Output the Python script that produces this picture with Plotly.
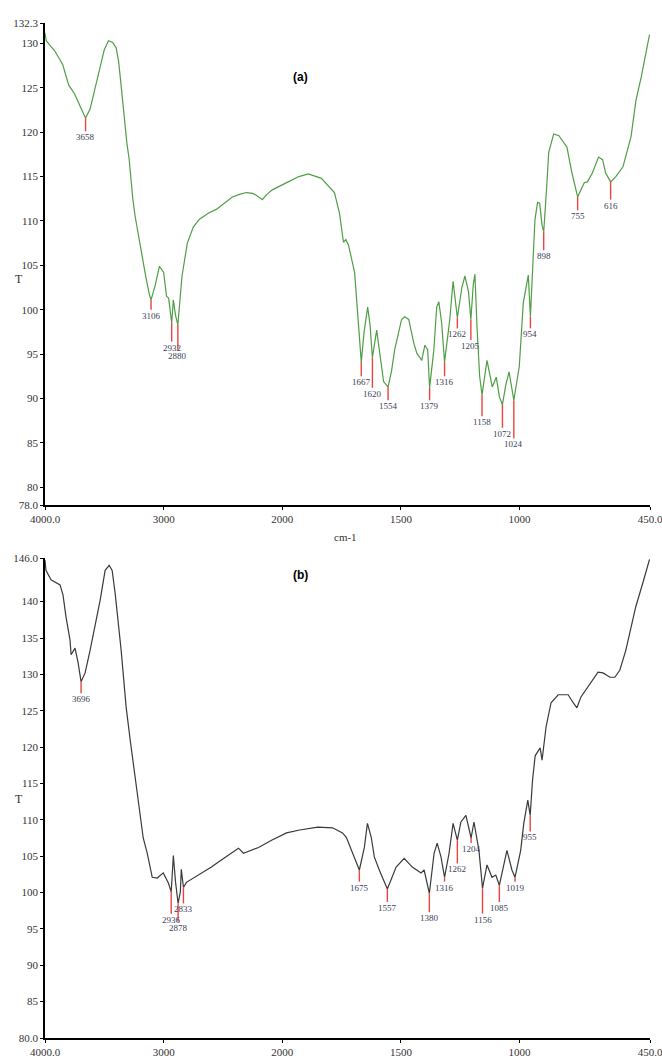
import plotly.graph_objects as go

# ---------------- data: spectrum (a) ----------------
wn_a = [4000, 3990, 3960, 3920, 3880, 3850, 3800, 3750, 3700, 3658, 3620, 3580, 3540, 3500, 3465,
        3430, 3400, 3380, 3360, 3340, 3310, 3290, 3260, 3240, 3200, 3150, 3120, 3106, 3070, 3035,
        3000, 2975, 2958, 2945, 2932, 2918, 2900, 2880, 2862, 2845, 2800, 2750, 2698, 2620, 2556,
        2480, 2421, 2360, 2303, 2250, 2219, 2168, 2130, 2084, 2030, 1975, 1930, 1890, 1835, 1780,
        1759, 1742, 1732, 1721, 1695, 1679, 1667, 1655, 1640, 1630, 1620, 1602, 1585, 1573, 1554,
        1540, 1526, 1497, 1484, 1467, 1446, 1433, 1412, 1399, 1387, 1379, 1361, 1349, 1340, 1328,
        1316, 1294, 1280, 1262, 1243, 1230, 1215, 1205, 1195, 1188, 1179, 1168, 1158, 1148, 1137,
        1115, 1098, 1085, 1072, 1058, 1044, 1024, 1001, 984, 963, 954, 945, 935, 924, 915,
        905, 898, 885, 877, 856, 834, 800, 779, 755, 740, 727, 714, 693, 667, 650,
        637, 616, 594, 564, 530, 509, 487, 470, 452]
t_a = [131.2, 130.3, 129.8, 129.2, 128.3, 127.6, 125.3, 124.3, 122.8, 121.6, 122.6, 124.8, 127.0, 129.3, 130.3,
       130.1, 129.5, 128.0, 125.5, 122.5, 118.8, 116.9, 112.5, 110.5, 107.3, 103.7, 101.7, 101.1, 102.8, 104.9,
       104.2, 101.5, 101.3, 99.5, 98.5, 101.1, 99.4, 98.3, 100.8, 103.8, 107.5, 109.3, 110.2, 110.9, 111.3,
       112.1, 112.7, 113.0, 113.2, 113.1, 112.9, 112.4, 113.0, 113.5, 113.9, 114.4, 115.0, 115.3, 114.8, 113.2,
       110.9, 107.6, 107.9, 107.3, 104.2, 99.0, 94.1, 97.5, 100.3, 98.3, 94.6, 97.7, 94.0, 91.9, 91.3,
       93.0, 95.5, 98.9, 99.2, 98.9, 96.3, 95.1, 94.3, 96.0, 95.5, 91.2, 95.5, 100.3, 100.9, 98.5,
       94.1, 98.9, 103.2, 99.1, 102.5, 103.8, 102.0, 98.9, 102.8, 104.0, 98.0, 92.5, 90.4, 92.2, 94.3,
       91.3, 92.4, 90.2, 89.3, 91.5, 93.0, 89.8, 93.6, 100.8, 103.9, 99.2, 104.5, 110.1, 112.1, 112.0,
       109.5, 108.8, 114.0, 117.7, 119.8, 119.6, 118.3, 115.4, 112.7, 113.6, 114.3, 114.4, 115.4, 117.2, 116.9,
       115.4, 114.4, 115.0, 116.1, 119.5, 123.6, 126.2, 128.5, 131.0]
peaks_a = [3658, 3106, 2932, 2880, 1667, 1620, 1554, 1379, 1316, 1262, 1205, 1158, 1072, 1024, 954, 898, 755, 616]
peak_end_a = [120.1, 100.0, 96.4, 95.5, 92.5, 91.2, 89.8, 89.8, 92.5, 97.9, 96.6, 88.0, 86.7, 85.5, 97.9, 106.7, 111.2, 112.4]

# ---------------- data: spectrum (b) ----------------
wn_b = [4000, 3992, 3949, 3907, 3873, 3848, 3823, 3789, 3780, 3747, 3721, 3696, 3662, 3620, 3578,
        3535, 3493, 3459, 3434, 3409, 3358, 3316, 3282, 3239, 3197, 3172, 3138, 3096, 3054, 3029,
        3003, 2960, 2936, 2918, 2900, 2878, 2859, 2851, 2833, 2808, 2707, 2597, 2538, 2428, 2369,
        2327, 2200, 2090, 1982, 1927, 1850, 1788, 1746, 1730, 1704, 1696, 1675, 1654, 1641, 1625,
        1612, 1591, 1557, 1520, 1486, 1452, 1415, 1402, 1380, 1360, 1347, 1331, 1316, 1297, 1280,
        1262, 1247, 1226, 1204, 1192, 1171, 1156, 1137, 1116, 1100, 1085, 1066, 1053, 1032, 1019,
        995, 982, 965, 955, 945, 934, 913, 905, 888, 867, 837, 795, 774, 758, 741,
        711, 669, 648, 619, 598, 577, 552, 531, 510, 480, 459, 452]
t_b = [145.7, 144.3, 143.0, 142.6, 142.3, 140.9, 137.9, 134.7, 132.7, 133.6, 131.6, 129.0, 130.2, 133.3, 136.5,
       140.2, 144.3, 145.0, 144.3, 141.2, 133.3, 125.5, 121.0, 115.5, 110.0, 107.5, 105.4, 102.1, 102.0, 102.4,
       102.7, 101.3, 100.1, 105.1, 101.5, 98.5, 100.1, 103.2, 100.7, 101.4, 102.4, 103.5, 104.2, 105.4, 106.1,
       105.4, 106.2, 107.2, 108.2, 108.6, 109.0, 108.9, 108.2, 107.6, 105.5, 104.9, 103.1, 106.2, 109.5, 107.6,
       104.9, 103.1, 100.5, 103.5, 104.7, 103.5, 102.7, 103.1, 99.9, 105.4, 106.8, 104.9, 102.1, 105.4, 109.5,
       107.2, 109.7, 110.6, 107.5, 109.7, 105.8, 100.6, 103.8, 102.1, 102.4, 101.0, 104.0, 105.8, 103.1, 102.1,
       105.8, 109.5, 112.7, 110.6, 115.5, 118.8, 119.9, 118.2, 122.8, 126.1, 127.2, 127.2, 126.1, 125.4, 126.9,
       128.3, 130.3, 130.2, 129.6, 129.6, 130.6, 133.3, 136.1, 139.3, 142.6, 145.3, 145.8]
peaks_b = [3696, 2936, 2878, 2833, 1675, 1557, 1380, 1316, 1262, 1204, 1156, 1085, 1019, 955]
peak_end_b = [127.4, 97.1, 96.0, 98.5, 101.5, 98.7, 97.3, 101.5, 104.0, 106.8, 97.1, 98.7, 101.5, 108.4]

x_tick_values = [4000, 3000, 2000, 1500, 1000, 450]
x_tick_text = ["4000.0", "3000", "2000", "1500", "1000", "450.0"]
y_ticks_a = [78, 80, 85, 90, 95, 100, 105, 110, 115, 120, 125, 130, 132.3]
y_text_a = ["78.0", "80", "85", "90", "95", "100", "105", "110", "115", "120", "125", "130", "132.3"]
y_ticks_b = [80, 85, 90, 95, 100, 105, 110, 115, 120, 125, 130, 135, 140, 146]
y_text_b = ["80.0", "85", "90", "95", "100", "105", "110", "115", "120", "125", "130", "135", "140", "146.0"]


def tx(w):
    # instrument scale: 4000-2000 cm-1 drawn at half the density of 2000-450 cm-1
    return w if w <= 2000 else 2000 + (w - 2000) / 2.0


W, H = 662, 1061
fig = go.Figure()

RED = "#e8453f"
LBL = "#3d3d58"
SERIF = "Liberation Serif"


def add_spectrum(wn, t, peaks, ends, color, xa, ya):
    fig.add_trace(go.Scatter(x=[tx(w) for w in wn], y=t, mode="lines",
                             line=dict(color=color, width=1.2), xaxis=xa, yaxis=ya,
                             showlegend=False, hoverinfo="skip"))
    lookup = dict(zip(wn, t))
    xs, ys = [], []
    for p, e in zip(peaks, ends):
        xs += [tx(p), tx(p), None]
        ys += [lookup[p], e, None]
    fig.add_trace(go.Scatter(x=xs, y=ys, mode="lines", line=dict(color=RED, width=1.4),
                             xaxis=xa, yaxis=ya, showlegend=False, hoverinfo="skip"))
    for p, e in zip(peaks, ends):
        fig.add_annotation(x=tx(p), y=e, xref=xa, yref=ya, text=str(p), showarrow=False,
                           yanchor="top", xanchor="center", yshift=1,
                           font=dict(family=SERIF, size=9, color=LBL))


add_spectrum(wn_a, t_a, peaks_a, peak_end_a, "#4f9e45", "x", "y")
add_spectrum(wn_b, t_b, peaks_b, peak_end_b, "#3a3a3a", "x2", "y2")

xdom = [45 / W, 650 / W]
axis_common = dict(showline=True, linecolor="black", linewidth=1.5, showgrid=False, zeroline=False,
                   ticks="outside", ticklen=3, tickcolor="black", tickwidth=1, automargin=False,
                   ticklabeloverflow="allow",
                   tickfont=dict(family=SERIF, size=11, color="#333333"))

fig.update_layout(
    width=W, height=H, margin=dict(l=0, r=0, t=0, b=0, autoexpand=False),
    paper_bgcolor="white", plot_bgcolor="white",
    xaxis=dict(domain=xdom, range=[tx(4000), tx(450)], anchor="y",
               tickvals=[tx(v) for v in x_tick_values], ticktext=x_tick_text, **axis_common),
    yaxis=dict(domain=[1 - 505 / H, 1 - 23 / H], range=[78, 132.3], anchor="x",
               tickvals=y_ticks_a, ticktext=y_text_a, **axis_common),
    xaxis2=dict(domain=xdom, range=[tx(4000), tx(450)], anchor="y2",
                tickvals=[tx(v) for v in x_tick_values], ticktext=x_tick_text, **axis_common),
    yaxis2=dict(domain=[1 - 1038 / H, 1 - 558 / H], range=[80, 146], anchor="x2",
                tickvals=y_ticks_b, ticktext=y_text_b, **axis_common),
)

fig.add_annotation(x=345 / W, y=1 - 537 / H, xref="paper", yref="paper", text="cm-1", showarrow=False,
                   font=dict(family=SERIF, size=11, color="#333333"))
fig.add_annotation(x=13 / W, y=1 - 270 / H, xref="paper", yref="paper", text="T", showarrow=False,
                   font=dict(family=SERIF, size=12, color="#333333"))
fig.add_annotation(x=13 / W, y=1 - 808 / H, xref="paper", yref="paper", text="T", showarrow=False,
                   font=dict(family=SERIF, size=12, color="#333333"))
fig.add_annotation(x=300 / W, y=1 - 68 / H, xref="paper", yref="paper", text="<b>(a)</b>", showarrow=False,
                   font=dict(family="Liberation Sans", size=12, color="black"))
fig.add_annotation(x=300 / W, y=1 - 575 / H, xref="paper", yref="paper", text="<b>(b)</b>", showarrow=False,
                   font=dict(family="Liberation Sans", size=12, color="black"))

fig.write_html("out.html", config={"displayModeBar": False},
               post_script="document.body.style.margin='0';document.body.style.overflow='hidden';")
